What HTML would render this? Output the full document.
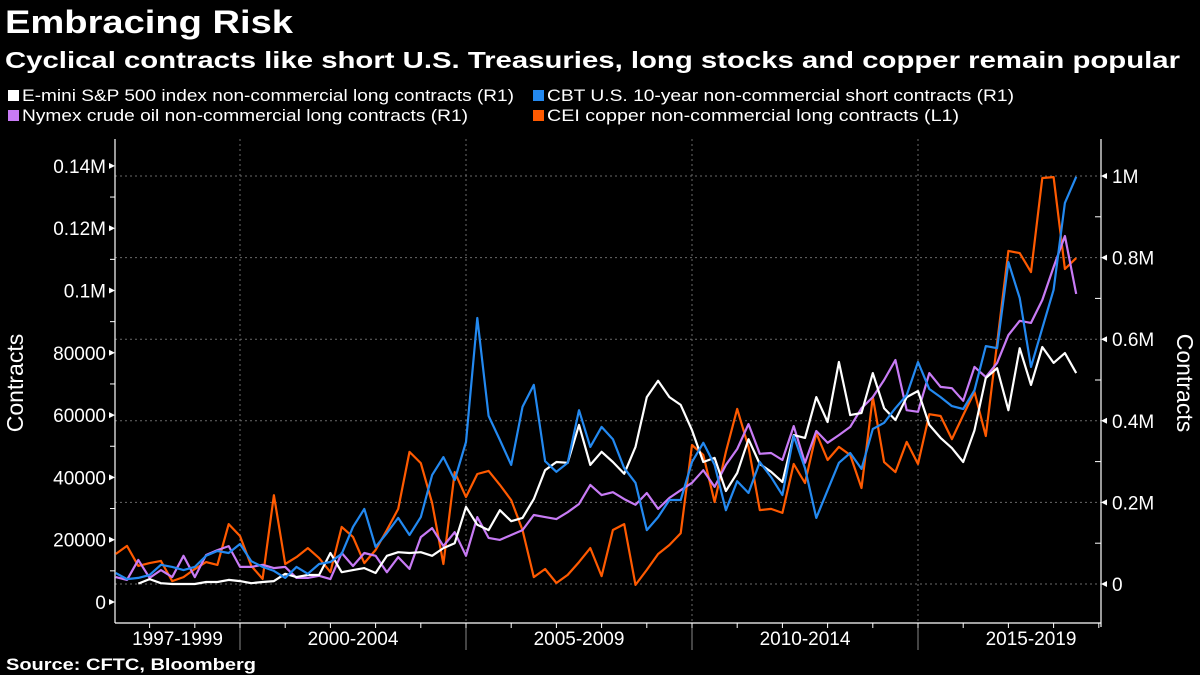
<!DOCTYPE html>
<html><head><meta charset="utf-8"><style>
html,body{margin:0;padding:0;background:#000;}
svg{display:block;}
text{font-family:"Liberation Sans",sans-serif;}
</style></head><body>
<svg id="chart" width="1200" height="675" viewBox="0 0 1200 675" xmlns="http://www.w3.org/2000/svg">
<rect width="1200" height="675" fill="#000"/>
<text x="5" y="33" fill="#fff" font-size="32" font-weight="bold" textLength="288" lengthAdjust="spacingAndGlyphs">Embracing Risk</text>
<text x="5" y="68" fill="#fff" font-size="23" font-weight="bold" textLength="1175" lengthAdjust="spacingAndGlyphs">Cyclical contracts like short U.S. Treasuries, long stocks and copper remain popular</text>
<g id="legend"></g>
<g id="grid"></g>
<g id="axes"></g>
<g id="series"></g>
<text x="6" y="670" fill="#fff" font-size="17" font-weight="bold" textLength="250" lengthAdjust="spacingAndGlyphs">Source: CFTC, Bloomberg</text>
</svg>
<script>
// ---- data (quarterly, starting 1997 Q2) ----
const startYear = 1997.25;
const xCategories = ["1997-1999","2000-2004","2005-2009","2010-2014","2015-2019"];
const leftTicks = [0,20000,40000,60000,80000,100000,120000,140000];
const leftTickLabels = ["0","20000","40000","60000","80000","0.1M","0.12M","0.14M"];
const rightTicks = [0,200000,400000,600000,800000,1000000];
const rightTickLabels = ["0","0.2M","0.4M","0.6M","0.8M","1M"];
// thousands of contracts
const sp500 = [null,null,1,12,2,0,0,0,5,5,10,7,2,5,7,25,17,22,22,76,29,34,39,27,69,78,76,78,69,88,100,189,145,132,181,154,162,208,279,299,297,390,292,324,299,270,336,458,498,458,439,377,299,309,228,272,355,294,275,250,365,358,458,397,544,414,419,517,431,402,458,473,390,358,333,299,377,505,529,426,578,488,581,542,566,517];
const tsy10 = [27,12,15,22,47,42,34,42,69,81,76,98,56,42,32,15,42,25,49,54,74,140,184,91,125,162,120,164,267,311,255,348,652,412,353,292,434,488,301,275,297,426,336,385,355,284,248,132,164,206,206,299,346,292,181,252,223,299,262,218,363,284,162,230,297,321,282,380,395,431,463,544,478,458,436,429,475,583,578,789,701,532,627,721,934,998];
const crude = [17,10,59,15,34,17,69,17,71,83,93,42,42,47,39,42,15,15,20,12,76,44,76,69,29,66,37,115,137,93,127,69,164,113,108,120,132,169,164,159,176,196,243,218,225,208,194,223,184,211,230,248,279,238,292,331,392,319,321,304,387,297,375,346,365,385,431,458,500,549,426,422,517,483,480,449,532,507,542,610,645,640,696,777,853,711];
const copper = [15.4,18.0,11.6,12.5,13.2,6.7,8.0,10.6,12.8,11.9,25.0,21.2,11.6,7.4,34.3,12.2,14.4,17.3,14.1,9.6,24.1,20.9,12.5,16.7,23.1,29.9,48.2,44.6,31.8,12.2,41.7,33.7,41.1,42.1,37.6,32.7,23.1,8.0,10.6,6.1,8.7,12.8,17.3,8.3,23.1,25.0,5.5,10.3,15.4,18.3,22.1,50.4,47.2,32.1,48.2,62.0,49.8,29.5,29.9,28.6,44.3,38.2,54.2,45.6,49.8,47.2,36.6,65.8,44.9,41.7,51.4,44.3,60.3,59.7,52.3,60.0,67.4,53.3,83.1,112.7,112.0,105.9,136.1,136.4,106.9,110.4];

// ---- scales ----
const X0=115, X1=1101, YB=623, YT=139;
function xScale(t){ return 240 + (t-2000)*45.2; }
function xIdx(i){ return xScale(startYear + i*0.25); }
function yLeft(v){ return 602 - v/20000*62.3; }
function yRight(v){ return 584 - v/1000000*408; }

const NS="http://www.w3.org/2000/svg";
function mk(tag, attrs, parent){ const e=document.createElementNS(NS,tag); for(const k in attrs) e.setAttribute(k,attrs[k]); parent.appendChild(e); return e; }
const grid=document.getElementById('grid'), axes=document.getElementById('axes'), series=document.getElementById('series'), legend=document.getElementById('legend');

// horizontal gridlines (right axis)
rightTicks.forEach((v,i)=>{
  const y=yRight(v);
  const g=mk('line',{x1:X0,x2:X1,y1:y,y2:y,stroke:'#6a6a6a','stroke-width':1,'stroke-dasharray':'2,3'},grid);
  
  
  const t=mk('text',{x:1112,y:y+7,fill:'#fff','font-size':19},axes);
  t.textContent=rightTickLabels[i];
  
  
  mk('path',{d:`M${X1} ${y}l6 -3v6z`,fill:'#fff'},axes);
  if(i<rightTicks.length-1){ const ym=yRight(v+100000); mk('line',{x1:X1-6,x2:X1,y1:ym,y2:ym,stroke:'#fff'},axes); }
});
// vertical gridlines at 5-year boundaries
[2000,2005,2010,2015].forEach(yr=>{
  const x=xScale(yr);
  const g=mk('line',{x1:x,x2:x,y1:YT,y2:YB,stroke:'#6a6a6a','stroke-dasharray':'2,3'},grid);
  
  
  mk('line',{x1:x,x2:x,y1:YB,y2:650,stroke:'#888'},axes);
});
// yearly minor ticks
for(let yr=1998; yr<=2020; yr++){ const x=xScale(yr); if(x<X1) mk('line',{x1:x,x2:x,y1:YB,y2:YB+5,stroke:'#fff'},axes); }
// x labels
const bounds=[X0,xScale(2000),xScale(2005),xScale(2010),xScale(2015),xScale(2020)];
xCategories.forEach((c,i)=>{
  const cx=(bounds[i]+Math.min(bounds[i+1],X1+45))/2;
  const t=mk('text',{x:cx,y:645,fill:'#fff','font-size':19,'text-anchor':'middle'},axes);
  t.textContent=c;
  
  
});
// left ticks
leftTicks.forEach((v,i)=>{
  const y=yLeft(v);
  mk('path',{d:`M${X0} ${y}l-6 -3v6z`,fill:'#fff'},axes);
  if(i<leftTicks.length-1){ const ym=yLeft(v+10000); mk('line',{x1:X0-5,x2:X0,y1:ym,y2:ym,stroke:'#fff'},axes); }
  const t=mk('text',{x:106,y:y+7,fill:'#fff','font-size':19,'text-anchor':'end'},axes);
  t.textContent=leftTickLabels[i];
  
  
});
// axis lines
mk('line',{x1:X0,x2:X0,y1:YT,y2:YB,stroke:'#fff','stroke-width':1.2},axes);
mk('line',{x1:X1,x2:X1,y1:YT,y2:YB+4,stroke:'#fff','stroke-width':1.2},axes);
mk('line',{x1:X0,x2:X1,y1:YB,y2:YB,stroke:'#fff','stroke-width':1.2},axes);
// axis titles
let at=mk('text',{x:0,y:0,fill:'#fff','font-size':23,'text-anchor':'middle',transform:'translate(23,383) rotate(-90)'},axes);
at.textContent='Contracts';


at=mk('text',{x:0,y:0,fill:'#fff','font-size':23,'text-anchor':'middle',transform:'translate(1177,383) rotate(90)'},axes);
at.textContent='Contracts';



// series
function drawLine(vals, yfn, mult, color, name){
  let d='', pen=false;
  vals.forEach((v,i)=>{ if(v===null){pen=false;return;} const x=xIdx(i), y=yfn(v*mult); d+=(pen?'L':'M')+x.toFixed(1)+' '+y.toFixed(1); pen=true; });
  const p=mk('path',{d:d,fill:'none',stroke:color,'stroke-width':2.2,'stroke-linejoin':'round'},series);
  
  
}
drawLine(copper, yLeft, 1000, '#ff5a00', 'copper-line');
drawLine(crude, yRight, 1000, '#c87bf5', 'crude-oil-line');
drawLine(sp500, yRight, 1000, '#ffffff', 'sp500-line');
drawLine(tsy10, yRight, 1000, '#2389f0', 'treasury-10y-line');

// legend
const legendItems=[
 {t:'E-mini S&P 500 index non-commercial long contracts (R1)',c:'#ffffff',x:8,y:101,w:492,n:'legend-entry-sp500'},
 {t:'CBT U.S. 10-year non-commercial short contracts (R1)',c:'#2389f0',x:533,y:101,w:467,n:'legend-entry-treasury'},
 {t:'Nymex crude oil non-commercial long contracts (R1)',c:'#c87bf5',x:8,y:121,w:446,n:'legend-entry-crude'},
 {t:'CEI copper non-commercial long contracts (L1)',c:'#ff5a00',x:533,y:121,w:412,n:'legend-entry-copper'}
];
legendItems.forEach(it=>{
  const g=mk('g',{},legend);
  
  
  mk('rect',{x:it.x,y:it.y-11,width:11,height:11,fill:it.c},g);
  const t=mk('text',{x:it.x+14,y:it.y,fill:'#fff','font-size':17,textLength:it.w,lengthAdjust:'spacingAndGlyphs'},g);
  t.textContent=it.t;
});
</script>
</body></html>
